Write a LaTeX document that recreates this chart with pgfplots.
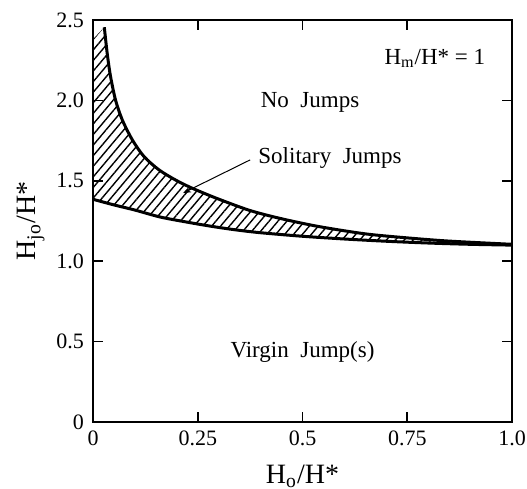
\documentclass[border=0pt]{standalone}
\usepackage{fontspec}
\setmainfont{Liberation Serif}
\usepackage{pgfplots}
\pgfplotsset{compat=1.18}
\usetikzlibrary{patterns.meta,arrows.meta,calc}
\begin{document}
\begin{tikzpicture}
\begin{axis}[
  scale only axis,
  width=209.5pt, height=201pt,
  xmin=0, xmax=1, ymin=0, ymax=2.5,
  axis line style={line width=0.8pt},
  tick style={line width=0.8pt, black},
  major tick length=5pt,
  tick align=inside,
  xtick={0,0.25,0.5,0.75,1},
  xticklabels={0,0.25,0.5,0.75,1.0},
  ytick={0,0.5,1,1.5,2,2.5},
  yticklabels={0,0.5,1.0,1.5,2.0,2.5},
  ticklabel style={font=\rmfamily\fontsize{11}{13}\selectfont},
  /pgf/number format/assume math mode=true,
  xticklabel style={yshift=-1pt},
  yticklabel style={xshift=-1pt},
  xlabel={H\textsubscript{o}/H*},
  ylabel={H\textsubscript{jo}/H*},
  label style={font=\fontsize{14}{16}\selectfont},
  xlabel style={at={(axis description cs:0.5,-0.135)}, anchor=center},
  ylabel style={at={(axis description cs:-0.148,0.5)}, anchor=center},
  clip=false,
]
% hatched region
\addplot[draw=none, pattern={Lines[angle=50, distance=3.4pt, line width=0.7pt]}] coordinates {
 (0,1.385) (0.05,1.35) (0.1,1.318) (0.16,1.275) (0.22,1.245) (0.28,1.218) (0.34,1.195) (0.40,1.177)
 (0.5,1.155) (0.6,1.138) (0.7,1.124) (0.8,1.113) (0.9,1.105) (1.0,1.10)
 (1.0,1.105) (0.85,1.125) (0.75,1.145) (0.65,1.17) (0.54,1.215) (0.45,1.264) (0.375,1.315)
 (0.303,1.383) (0.26,1.428) (0.229,1.463) (0.197,1.505) (0.158,1.567) (0.122,1.65) (0.094,1.754)
 (0.070,1.878) (0.054,2.0) (0.042,2.147) (0.034,2.29) (0.027,2.455) (0,2.38)
} -- cycle;
% lower boundary
\addplot[black, line width=1.5pt, smooth, tension=0.5] coordinates {
 (0,1.385) (0.05,1.35) (0.1,1.318) (0.16,1.275) (0.22,1.245) (0.28,1.218) (0.34,1.195) (0.40,1.177)
 (0.5,1.155) (0.6,1.138) (0.7,1.124) (0.8,1.113) (0.9,1.105) (1.0,1.10)
};
% upper boundary
\addplot[black, line width=1.5pt, smooth, tension=0.5] coordinates {
 (0.027,2.455) (0.034,2.29) (0.042,2.147) (0.054,2.0) (0.070,1.878) (0.094,1.754) (0.122,1.65)
 (0.158,1.567) (0.197,1.505) (0.229,1.463) (0.26,1.428) (0.303,1.383) (0.375,1.315) (0.45,1.264)
 (0.54,1.215) (0.65,1.17) (0.75,1.145) (0.85,1.125) (1.0,1.105)
};
% leader
\addplot[black, line width=0.5pt, -{Stealth[length=4pt,width=3pt]}] coordinates {(0.375,1.63) (0.215,1.424)};
\node[font=\fontsize{11.5}{13}\selectfont] at (axis cs:0.816,2.26) {H\textsubscript{m}/H* = 1};
\node[font=\fontsize{11.5}{13}\selectfont] at (axis cs:0.518,1.99) {No\ \ Jumps};
\node[font=\fontsize{11.5}{13}\selectfont, anchor=west] at (axis cs:0.378,1.64) {Solitary\ \ Jumps};
\node[font=\fontsize{11.5}{13}\selectfont] at (axis cs:0.5,0.435) {Virgin\ \ Jump(s)};
\end{axis}
\pgfresetboundingbox
\path ($(current axis.south west)+(-46.5pt,-33.5pt)$) rectangle ($(current axis.north east)+(7.5pt,10pt)$);
\end{tikzpicture}
\end{document}
